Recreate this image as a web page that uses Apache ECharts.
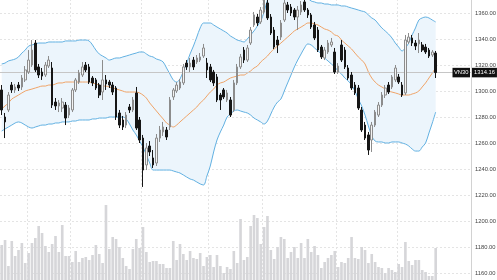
<!DOCTYPE html>
<html><head><meta charset="utf-8">
<script src="https://cdn.jsdelivr.net/npm/echarts@6/dist/echarts.min.js"></script>
<style>html,body{margin:0;padding:0;background:#fff}#c{width:497px;height:280px}</style>
</head><body><div id="c"></div>
<script>
const symbolName = 'VN30';
const lastPrice = 1314.16;
const slotCount = 140;
const monthStartIdx = [8, 21, 42, 62, 78, 100, 118];
const priceMin = 1140, priceMax = 1380, priceStep = 20;

const opens = [
1300.8,1280,1285.4,1304.6,1300.8,1304.6,1303.1,1308.5,1314.6,1320,
1336.9,1318.5,1314.6,1312.3,1319.2,1317.7,1291.5,1288.5,1286.9,1289.2,
1281.5,1285.4,1300.8,1306.9,1312.3,1320,1318.5,1310,1308.5,1304.6,
1299.2,1308.5,1306.9,1304.6,1302.3,1283.1,1277.7,1273.8,1287.7,1285.4,
1298.5,1277.7,1263.8,1243.1,1257.7,1248.5,1244.6,1263.8,1268.5,1270,
1272.3,1295.4,1300,1302.3,1306.2,1321.5,1318.5,1323.8,1322.3,1323.8,
1326.9,1321.5,1318.5,1314.6,1310.8,1296.9,1300.8,1293.1,1293.1,1285.4,
1306.2,1318.5,1331.5,1323.8,1336.9,1350.8,1356.9,1353.1,1360.8,1367.7,
1356.9,1346.9,1339.2,1341.5,1354.6,1366.2,1364.6,1362.3,1356.9,1360.8,
1368.5,1362.3,1358.5,1350.8,1346.9,1333.8,1325.4,1330,1335.4,1330,
1314.6,1335.4,1331.5,1317.7,1312.3,1304.6,1302.3,1285.4,1273.8,1266.2,
1262.3,1273.8,1281.5,1289.2,1296.9,1304.6,1303.1,1308.5,1310.8,1304.6,
1298.5,1337.7,1340.8,1336.9,1336.2,1335.4,1333.8,1331.5,1327.7,1329.2];
const closes = [
1285.4,1276.2,1296.9,1300.8,1303.1,1302.3,1310,1316.2,1323.8,1331.5,
1316.2,1312.3,1311.5,1320,1323.8,1289.2,1288.5,1290.8,1291.5,1279.2,
1286.9,1300.8,1308.5,1313.8,1318.5,1316.2,1306.9,1306.2,1302.3,1296.9,
1308.5,1305.4,1304.6,1299.2,1280,1273.8,1272.3,1281.5,1285.4,1293.1,
1271.5,1262.3,1239.2,1256.2,1253.1,1243.1,1263.8,1270,1272.3,1264.6,
1293.1,1300.8,1304.6,1306.9,1318.5,1318.5,1321.5,1318.5,1325.4,1326.2,
1333.1,1316.2,1308.5,1306.2,1293.1,1293.1,1295.4,1298.5,1281.5,1306.2,
1318.5,1326.2,1323.8,1333.1,1346.9,1358.5,1352.3,1362.3,1370,1356.2,
1344.6,1333.8,1335.4,1352.3,1367.7,1362.3,1360,1356.9,1362.3,1366.2,
1362.3,1358.5,1349.2,1340.8,1331.5,1326.2,1331.5,1336.9,1337.7,1314.6,
1319.2,1323.8,1318.5,1310,1302.3,1298.5,1286.9,1270,1263.8,1254.6,
1273.8,1283.8,1289.2,1296.9,1302.3,1299.2,1310.8,1317.7,1306.9,1296.9,
1339.2,1341.5,1336.9,1334.6,1339.2,1331.5,1330,1326.9,1330,1314.16];
const lows = [
1281.5,1263.8,1283.8,1298.5,1298.5,1300,1300.8,1306.9,1313.1,1318.5,
1314.6,1310,1308.5,1310.8,1317.7,1286.9,1285.4,1283.8,1283.8,1273.8,
1279.2,1283.8,1299.2,1305.4,1310.8,1314.6,1305.4,1303.8,1300.8,1294.6,
1293.1,1300.8,1302.3,1296.9,1277.7,1271.5,1270,1271.5,1283.1,1283.8,
1270,1260,1226.2,1239.2,1250,1240.8,1242.3,1260.8,1265.4,1262.3,
1270,1293.1,1298.5,1300.8,1304.6,1316.2,1314.6,1316.2,1320.8,1322.3,
1325.4,1310,1306.9,1303.8,1291.5,1285.4,1293.8,1291.5,1280,1283.8,
1304.6,1316.9,1321.5,1322.3,1335.4,1349.2,1350,1351.5,1359.2,1354.6,
1343.1,1332.3,1329.2,1339.2,1353.1,1360,1357.7,1354.6,1346.9,1358.5,
1360.8,1356.2,1347.7,1339.2,1330,1324.6,1323.8,1328.5,1333.8,1313.1,
1313.1,1322.3,1316.9,1308.5,1300.8,1296.9,1285.4,1268.5,1262.3,1250.8,
1253.1,1272.3,1280,1287.7,1294.6,1297.7,1301.5,1306.9,1305.4,1295.4,
1296.9,1336.2,1334.6,1331.5,1329.2,1330,1328.5,1325.4,1326.2,1310];
const highs = [
1304.6,1283.1,1299.2,1306.9,1305.4,1306.9,1312.3,1319.2,1331.5,1339.2,
1339.2,1320.8,1317.7,1322.3,1326.9,1322.3,1294.6,1293.1,1294.6,1291.5,
1289.2,1302.3,1310,1316.2,1322.3,1322.3,1320.8,1311.5,1310,1306.2,
1323.8,1312.3,1308.5,1306.9,1303.8,1285.4,1280.8,1283.8,1290,1295.4,
1303.1,1280,1266.2,1260,1261.5,1254.6,1266.9,1273.1,1276.2,1272.3,
1295.4,1302.3,1306.9,1309.2,1320.8,1323.8,1325.4,1326.2,1327.7,1329.2,
1336.2,1325.4,1320.8,1316.2,1313.1,1298.5,1302.3,1300.8,1295.4,1308.5,
1320.8,1328.5,1333.8,1335.4,1349.2,1360.8,1359.2,1364.6,1373.1,1370,
1359.2,1349.2,1342.3,1354.6,1370,1368.5,1366.9,1363.8,1365.4,1369.2,
1370,1363.8,1360,1353.1,1349.2,1335.4,1333.8,1339.2,1340.8,1333.1,
1321.5,1339.2,1333.8,1320,1314.6,1306.9,1304.6,1287.7,1276.2,1268.5,
1276.2,1285.4,1291.5,1299.2,1304.6,1306.9,1312.3,1320,1313.1,1306.9,
1343.1,1344.6,1343.1,1339.2,1344.6,1337.7,1336.2,1333.1,1331.5,1330.8];
const volumes = [
35,40,14,39,24,30,37,17,27,37,
42,54,47,34,28,36,44,28,55,24,
24,18,29,18,22,23,20,25,35,26,
17,75,31,43,41,33,22,14,11,31,
41,32,53,28,18,19,19,16,16,12,
12,39,20,36,26,20,29,22,21,27,
14,23,25,13,25,14,7,13,11,29,
17,61,20,23,54,65,62,36,53,64,
30,21,33,43,41,22,28,33,22,37,
22,41,28,34,25,12,18,22,25,29,
13,18,17,22,43,22,21,33,30,17,
26,18,13,12,7,12,10,8,16,13,
38,19,15,20,20,10,8,4,4,32];
const bollUpper = [
1320.8,1321.5,1323.1,1323.8,1324.6,1326.2,1329.2,1331.5,1334.6,1335.4,
1336.2,1336.9,1336.9,1336.9,1337.7,1337.7,1337.7,1337.7,1337.7,1338.5,
1338.5,1338.5,1338.5,1339.2,1339.2,1339.2,1338.5,1335.4,1331.5,1328.5,
1326.9,1325.4,1323.8,1324.6,1325.4,1325.4,1326.2,1326.9,1327.7,1328.5,
1329.2,1330,1330,1328.5,1326.9,1326.2,1324.6,1323.8,1322.3,1317.7,
1313.1,1308.5,1306.9,1309.2,1315.4,1321.5,1328.5,1334.6,1341.5,1348.5,
1352.3,1352.3,1352.3,1350.8,1349.2,1347.7,1346.2,1344.6,1342.3,1340.8,
1339.2,1338.5,1337.7,1340,1343.1,1346.2,1350,1353.8,1360.8,1370,
1375.4,1380.8,1383.1,1384.6,1386.9,1388.5,1388.5,1386.2,1383.1,1379.2,
1375.4,1371.5,1369.2,1368.5,1367.7,1367.7,1366.9,1366.9,1366.2,1366.2,
1366.2,1365.4,1365.4,1364.6,1363.8,1363.1,1362.3,1361.5,1360.8,1358.5,
1356.2,1354.6,1351.5,1348.5,1346.2,1343.8,1340.8,1336.9,1333.8,1330.8,
1333.1,1336.9,1343.1,1348.5,1354.6,1356.2,1356.9,1356.2,1354.6,1353.1];
const bollMid = [
1286.2,1288.5,1290.8,1293.8,1295.4,1296.9,1298.5,1300,1300.8,1301.5,
1302.3,1303.1,1303.8,1303.8,1304.6,1304.6,1305.4,1306.2,1306.2,1306.9,
1306.9,1306.9,1306.9,1306.9,1306.9,1306.9,1306.9,1306.2,1305.4,1304.6,
1303.8,1303.8,1303.1,1302.3,1301.5,1300.8,1300,1299.2,1299.2,1299.2,
1299.2,1298.5,1296.9,1294.6,1290.8,1287.7,1284.6,1281.5,1278.5,1275.4,
1273.8,1272.3,1273.8,1276.2,1278.5,1280.8,1283.1,1285.4,1287.7,1290.8,
1293.1,1296.2,1299.2,1301.5,1304.6,1306.2,1306.9,1308.5,1310,1310.8,
1311.5,1312.3,1312.3,1313.8,1315.4,1317.7,1319.2,1322.3,1324.6,1326.9,
1330,1332.3,1334.6,1336.9,1339.2,1341.5,1343.8,1346.2,1347.7,1349.2,
1350.8,1352.3,1352.3,1351.5,1350.8,1349.2,1347.7,1346.9,1345.4,1343.1,
1342.3,1339.2,1336.9,1334.6,1332.3,1329.2,1326.2,1323.8,1320.8,1314.6,
1310,1306.9,1304.6,1303.1,1301.5,1300,1299.2,1298.5,1297.7,1296.9,
1296.9,1296.9,1297.7,1298.5,1300,1303.1,1306.2,1310,1313.8,1317.7];
const bollLower = [
1269.2,1270.8,1272.3,1273.8,1275.4,1276.2,1275.4,1273.8,1272.3,1271.5,
1272.3,1273.1,1273.8,1273.8,1274.6,1274.6,1275.4,1275.4,1276.2,1276.2,
1276.2,1276.9,1276.9,1277.7,1277.7,1277.7,1277.7,1278.5,1278.5,1279.2,
1279.2,1279.2,1280,1280,1280,1280,1280,1278.5,1274.6,1270,
1266.2,1261.5,1256.9,1250.8,1244.6,1239.2,1239.2,1239.2,1239.2,1239.2,
1239.2,1238.5,1237.7,1236.9,1235.4,1233.8,1232.3,1231.5,1230,1228.5,
1227.7,1234.6,1242.3,1253.1,1262.3,1268.5,1273.8,1280,1282.3,1284.6,
1285.4,1284.6,1283.8,1283.1,1281.5,1279.2,1277.7,1276.2,1274.6,1276.9,
1282.3,1287.7,1291.5,1293.8,1300,1306.2,1312.3,1318.5,1323.8,1328.5,
1333.1,1336.2,1335.4,1333.1,1330.8,1328.5,1325.4,1323.1,1320.8,1318.5,
1315.4,1313.1,1310,1307.7,1304.6,1300,1293.8,1288.5,1281.5,1273.1,
1265.4,1261.5,1260.8,1260.8,1260,1260,1260.8,1260.8,1260.8,1260,
1259.2,1257.7,1255.4,1253.8,1253.8,1256.9,1260,1267.7,1275.4,1283.8];

const categories = [];
for (let i = 0; i < slotCount; i++) categories.push('D' + (i + 1));
const candleData = opens.map((o, i) => [o, closes[i], lows[i], highs[i]]);
const bandWidth = bollUpper.map((u, i) => +(u - bollLower[i]).toFixed(2));

const chart = echarts.init(document.getElementById('c'), null, {renderer: 'canvas'});
const font = 'Liberation Sans, Arial, sans-serif';
const dash = [2, 2];
const bandBlue = '#62b1e2';
const smoothK = 0.35;

chart.setOption({
  animation: false,
  backgroundColor: '#ffffff',
  grid: [
    {left: 0, right: 26, top: -13, bottom: -19, containLabel: false, outerBoundsMode: 'none'},
    {left: 0, right: 26, top: 180, bottom: 0, containLabel: false, outerBoundsMode: 'none'}
  ],
  xAxis: [
    {type: 'category', gridIndex: 0, data: categories, boundaryGap: true,
     axisLine: {show: false}, axisTick: {show: false}, axisLabel: {show: false},
     splitLine: {show: true, interval: (idx) => monthStartIdx.includes(idx),
       lineStyle: {color: '#e4e4e4', type: dash, width: 1}}},
    {type: 'category', gridIndex: 1, data: categories, boundaryGap: true, show: false}
  ],
  yAxis: [
    {type: 'value', gridIndex: 0, position: 'right', min: priceMin, max: priceMax, interval: priceStep,
     axisLine: {show: true, lineStyle: {color: '#d2d2d2', width: 1}},
     axisTick: {show: false},
     axisLabel: {formatter: (v) => v.toFixed(2), fontSize: 5.8, color: '#444', margin: 4, fontFamily: font},
     splitLine: {show: true, lineStyle: {color: '#e4e4e4', type: dash, width: 1}}},
    {type: 'value', gridIndex: 1, min: 0, max: 100, show: false}
  ],
  series: [
    {name: 'Volume', type: 'bar', xAxisIndex: 1, yAxisIndex: 1, data: volumes,
     barCategoryGap: '22%', itemStyle: {color: '#d6d6d9'}, z: 1},
    {name: 'bandBase', type: 'line', data: bollLower, stack: 'boll', symbol: 'none',
     smooth: smoothK, lineStyle: {opacity: 0}, silent: true, z: 2},
    {name: 'bandFill', type: 'line', data: bandWidth, stack: 'boll', symbol: 'none',
     smooth: smoothK, lineStyle: {opacity: 0}, areaStyle: {color: '#ecf5fc', opacity: 1}, silent: true, z: 2},
    {name: 'Upper', type: 'line', data: bollUpper, symbol: 'none', smooth: smoothK,
     lineStyle: {color: bandBlue, width: 1}, z: 3},
    {name: 'Lower', type: 'line', data: bollLower, symbol: 'none', smooth: smoothK,
     lineStyle: {color: bandBlue, width: 1}, z: 3},
    {name: 'Mid', type: 'line', data: bollMid, symbol: 'none', smooth: smoothK,
     lineStyle: {color: '#f0a468', width: 1}, z: 3},
    {name: symbolName, type: 'candlestick', data: candleData, barWidth: '62%', z: 5,
     itemStyle: {color: '#f3f3f3', color0: '#161616', borderColor: '#8c8c8c', borderColor0: '#161616', borderWidth: 1},
     markLine: {
       symbol: ['none', 'none'], silent: true, animation: false,
       lineStyle: {color: '#c6c6c6', type: 'solid', width: 1},
       data: [
         {yAxis: lastPrice, label: {show: true, position: 'end', distance: 1,
           formatter: lastPrice.toFixed(2), backgroundColor: '#111', color: '#fff',
           fontSize: 5.8, fontFamily: font, padding: [2, 2, 1.5, 2]}},
         {yAxis: lastPrice, label: {show: true, position: 'insideEnd', distance: 1,
           formatter: symbolName, backgroundColor: '#111', color: '#fff',
           fontSize: 5.8, fontFamily: font, padding: [2, 1.5, 1.5, 1.5]}}
       ]
     }}
  ]
});
</script>
</body></html>
